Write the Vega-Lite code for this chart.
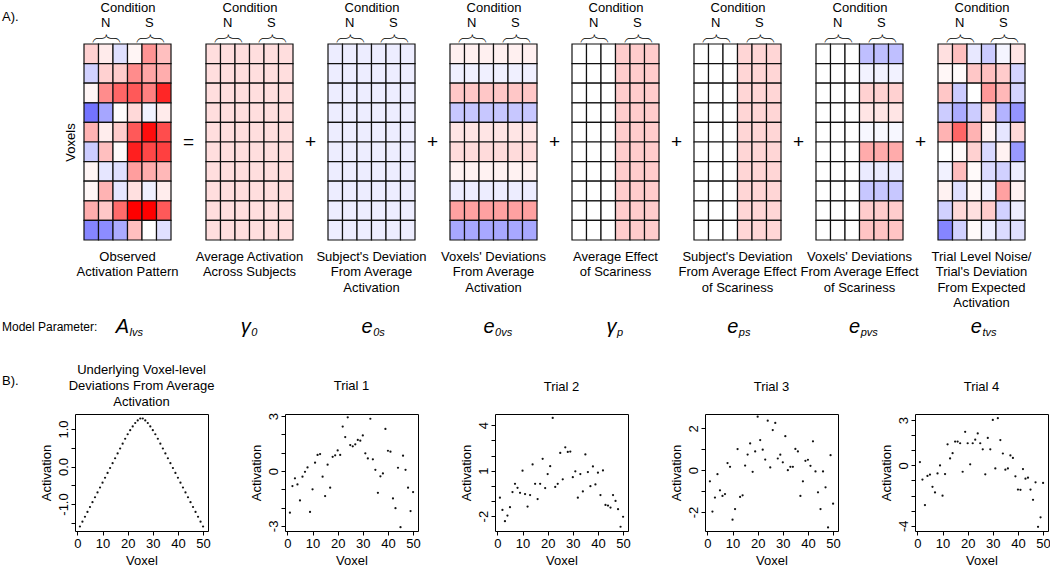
{
"$schema": "https://vega.github.io/schema/vega-lite/v6.json",
"padding": {"left": 2, "top": 1, "right": 0, "bottom": 0},
"background": "white",
"config": {
  "font": "Liberation Sans",
  "view": {"stroke": null},
  "title": {"fontWeight": "normal", "fontSize": 13, "font": "Liberation Sans", "color": "#000"},
  "axis": {"domain": false, "grid": false, "tickColor": "#000", "tickSize": 4, "labelColor": "#000", "titleColor": "#000", "labelFontSize": 13, "titleFontSize": 13, "titleFontWeight": "normal", "labelPadding": 2, "titlePadding": 4, "labelFlush": false, "labelOverlap": false, "labelBound": false, "labelFont": "Liberation Sans", "titleFont": "Liberation Sans"},
  "text": {"font": "Liberation Sans", "color": "#000"}
},
"datasets": {
  "p1": [
    {"r":1,"N1":0.18,"N2":0.08,"N3":-0.12,"S1":0.04,"S2":0.42,"S3":0.25},
    {"r":2,"N1":-0.18,"N2":0.18,"N3":0.2,"S1":0.45,"S2":0.35,"S3":0.32},
    {"r":3,"N1":0.04,"N2":0.45,"N3":0.6,"S1":0.65,"S2":0.5,"S3":0.85},
    {"r":4,"N1":-0.55,"N2":-0.35,"N3":0.01,"S1":0.15,"S2":-0.05,"S3":0.08},
    {"r":5,"N1":0.3,"N2":0.07,"N3":0.2,"S1":0.65,"S2":0.95,"S3":0.7},
    {"r":6,"N1":-0.2,"N2":0.25,"N3":0.02,"S1":0.88,"S2":0.72,"S3":0.75},
    {"r":7,"N1":0.04,"N2":-0.1,"N3":-0.12,"S1":0.38,"S2":0.32,"S3":0.28},
    {"r":8,"N1":0.03,"N2":0.3,"N3":-0.1,"S1":0.12,"S2":-0.06,"S3":0.07},
    {"r":9,"N1":0.32,"N2":0.22,"N3":0.58,"S1":1.0,"S2":1.0,"S3":0.65},
    {"r":10,"N1":-0.48,"N2":-0.45,"N3":-0.33,"S1":0.25,"S2":0.0,"S3":-0.12}
  ],
  "p2": [
    {"r":1,"N1":0.13,"N2":0.13,"N3":0.13,"S1":0.13,"S2":0.13,"S3":0.13},
    {"r":2,"N1":0.13,"N2":0.13,"N3":0.13,"S1":0.13,"S2":0.13,"S3":0.13},
    {"r":3,"N1":0.13,"N2":0.13,"N3":0.13,"S1":0.13,"S2":0.13,"S3":0.13},
    {"r":4,"N1":0.13,"N2":0.13,"N3":0.13,"S1":0.13,"S2":0.13,"S3":0.13},
    {"r":5,"N1":0.13,"N2":0.13,"N3":0.13,"S1":0.13,"S2":0.13,"S3":0.13},
    {"r":6,"N1":0.13,"N2":0.13,"N3":0.13,"S1":0.13,"S2":0.13,"S3":0.13},
    {"r":7,"N1":0.13,"N2":0.13,"N3":0.13,"S1":0.13,"S2":0.13,"S3":0.13},
    {"r":8,"N1":0.13,"N2":0.13,"N3":0.13,"S1":0.13,"S2":0.13,"S3":0.13},
    {"r":9,"N1":0.13,"N2":0.13,"N3":0.13,"S1":0.13,"S2":0.13,"S3":0.13},
    {"r":10,"N1":0.13,"N2":0.13,"N3":0.13,"S1":0.13,"S2":0.13,"S3":0.13}
  ],
  "p3": [
    {"r":1,"N1":-0.07,"N2":-0.07,"N3":-0.07,"S1":-0.07,"S2":-0.07,"S3":-0.07},
    {"r":2,"N1":-0.07,"N2":-0.07,"N3":-0.07,"S1":-0.07,"S2":-0.07,"S3":-0.07},
    {"r":3,"N1":-0.07,"N2":-0.07,"N3":-0.07,"S1":-0.07,"S2":-0.07,"S3":-0.07},
    {"r":4,"N1":-0.07,"N2":-0.07,"N3":-0.07,"S1":-0.07,"S2":-0.07,"S3":-0.07},
    {"r":5,"N1":-0.07,"N2":-0.07,"N3":-0.07,"S1":-0.07,"S2":-0.07,"S3":-0.07},
    {"r":6,"N1":-0.07,"N2":-0.07,"N3":-0.07,"S1":-0.07,"S2":-0.07,"S3":-0.07},
    {"r":7,"N1":-0.07,"N2":-0.07,"N3":-0.07,"S1":-0.07,"S2":-0.07,"S3":-0.07},
    {"r":8,"N1":-0.07,"N2":-0.07,"N3":-0.07,"S1":-0.07,"S2":-0.07,"S3":-0.07},
    {"r":9,"N1":-0.07,"N2":-0.07,"N3":-0.07,"S1":-0.07,"S2":-0.07,"S3":-0.07},
    {"r":10,"N1":-0.07,"N2":-0.07,"N3":-0.07,"S1":-0.07,"S2":-0.07,"S3":-0.07}
  ],
  "p4": [
    {"r":1,"N1":0.06,"N2":0.06,"N3":0.06,"S1":0.06,"S2":0.06,"S3":0.06},
    {"r":2,"N1":-0.06,"N2":-0.06,"N3":-0.06,"S1":-0.06,"S2":-0.06,"S3":-0.06},
    {"r":3,"N1":0.22,"N2":0.22,"N3":0.22,"S1":0.22,"S2":0.22,"S3":0.22},
    {"r":4,"N1":-0.22,"N2":-0.22,"N3":-0.22,"S1":-0.22,"S2":-0.22,"S3":-0.22},
    {"r":5,"N1":0.1,"N2":0.1,"N3":0.1,"S1":0.1,"S2":0.1,"S3":0.1},
    {"r":6,"N1":0.14,"N2":0.14,"N3":0.14,"S1":0.14,"S2":0.14,"S3":0.14},
    {"r":7,"N1":0.05,"N2":0.05,"N3":0.05,"S1":0.05,"S2":0.05,"S3":0.05},
    {"r":8,"N1":-0.07,"N2":-0.07,"N3":-0.07,"S1":-0.07,"S2":-0.07,"S3":-0.07},
    {"r":9,"N1":0.37,"N2":0.37,"N3":0.37,"S1":0.37,"S2":0.37,"S3":0.37},
    {"r":10,"N1":-0.34,"N2":-0.34,"N3":-0.34,"S1":-0.34,"S2":-0.34,"S3":-0.34}
  ],
  "p5": [
    {"r":1,"N1":0,"N2":0,"N3":0,"S1":0.2,"S2":0.2,"S3":0.2},
    {"r":2,"N1":0,"N2":0,"N3":0,"S1":0.2,"S2":0.2,"S3":0.2},
    {"r":3,"N1":0,"N2":0,"N3":0,"S1":0.2,"S2":0.2,"S3":0.2},
    {"r":4,"N1":0,"N2":0,"N3":0,"S1":0.2,"S2":0.2,"S3":0.2},
    {"r":5,"N1":0,"N2":0,"N3":0,"S1":0.2,"S2":0.2,"S3":0.2},
    {"r":6,"N1":0,"N2":0,"N3":0,"S1":0.2,"S2":0.2,"S3":0.2},
    {"r":7,"N1":0,"N2":0,"N3":0,"S1":0.2,"S2":0.2,"S3":0.2},
    {"r":8,"N1":0,"N2":0,"N3":0,"S1":0.2,"S2":0.2,"S3":0.2},
    {"r":9,"N1":0,"N2":0,"N3":0,"S1":0.2,"S2":0.2,"S3":0.2},
    {"r":10,"N1":0,"N2":0,"N3":0,"S1":0.2,"S2":0.2,"S3":0.2}
  ],
  "p6": [
    {"r":1,"N1":0,"N2":0,"N3":0,"S1":0.16,"S2":0.16,"S3":0.16},
    {"r":2,"N1":0,"N2":0,"N3":0,"S1":0.16,"S2":0.16,"S3":0.16},
    {"r":3,"N1":0,"N2":0,"N3":0,"S1":0.16,"S2":0.16,"S3":0.16},
    {"r":4,"N1":0,"N2":0,"N3":0,"S1":0.16,"S2":0.16,"S3":0.16},
    {"r":5,"N1":0,"N2":0,"N3":0,"S1":0.16,"S2":0.16,"S3":0.16},
    {"r":6,"N1":0,"N2":0,"N3":0,"S1":0.16,"S2":0.16,"S3":0.16},
    {"r":7,"N1":0,"N2":0,"N3":0,"S1":0.16,"S2":0.16,"S3":0.16},
    {"r":8,"N1":0,"N2":0,"N3":0,"S1":0.16,"S2":0.16,"S3":0.16},
    {"r":9,"N1":0,"N2":0,"N3":0,"S1":0.16,"S2":0.16,"S3":0.16},
    {"r":10,"N1":0,"N2":0,"N3":0,"S1":0.16,"S2":0.16,"S3":0.16}
  ],
  "p7": [
    {"r":1,"N1":0,"N2":0,"N3":0,"S1":-0.25,"S2":-0.25,"S3":-0.25},
    {"r":2,"N1":0,"N2":0,"N3":0,"S1":-0.05,"S2":-0.05,"S3":-0.05},
    {"r":3,"N1":0,"N2":0,"N3":0,"S1":0.18,"S2":0.18,"S3":0.18},
    {"r":4,"N1":0,"N2":0,"N3":0,"S1":0.1,"S2":0.1,"S3":0.1},
    {"r":5,"N1":0,"N2":0,"N3":0,"S1":-0.03,"S2":-0.03,"S3":-0.03},
    {"r":6,"N1":0,"N2":0,"N3":0,"S1":0.33,"S2":0.33,"S3":0.33},
    {"r":7,"N1":0,"N2":0,"N3":0,"S1":-0.08,"S2":-0.08,"S3":-0.08},
    {"r":8,"N1":0,"N2":0,"N3":0,"S1":-0.22,"S2":-0.22,"S3":-0.22},
    {"r":9,"N1":0,"N2":0,"N3":0,"S1":0.2,"S2":0.2,"S3":0.2},
    {"r":10,"N1":0,"N2":0,"N3":0,"S1":0.23,"S2":0.23,"S3":0.23}
  ],
  "p8": [
    {"r":1,"N1":0.12,"N2":0.25,"N3":-0.09,"S1":-0.2,"S2":-0.04,"S3":0.1},
    {"r":2,"N1":0.03,"N2":0.02,"N3":0.22,"S1":0.25,"S2":0.2,"S3":-0.17},
    {"r":3,"N1":0.22,"N2":-0.2,"N3":0.0,"S1":0.4,"S2":0.28,"S3":-0.17},
    {"r":4,"N1":-0.2,"N2":-0.33,"N3":-0.2,"S1":0.15,"S2":-0.3,"S3":-0.42},
    {"r":5,"N1":0.3,"N2":0.6,"N3":0.3,"S1":0.05,"S2":-0.1,"S3":0.15},
    {"r":6,"N1":0.0,"N2":0.02,"N3":0.18,"S1":-0.15,"S2":0.05,"S3":-0.4},
    {"r":7,"N1":-0.05,"N2":0.26,"N3":0.02,"S1":-0.14,"S2":-0.18,"S3":-0.07},
    {"r":8,"N1":0.05,"N2":-0.12,"N3":0.03,"S1":-0.06,"S2":0.37,"S3":0.05},
    {"r":9,"N1":-0.18,"N2":0.15,"N3":0.12,"S1":0.2,"S2":-0.18,"S3":-0.07},
    {"r":10,"N1":-0.48,"N2":-0.18,"N3":0.02,"S1":-0.07,"S2":-0.14,"S3":-0.12}
  ],
  "t0": [
    {"voxel":1,"act":-1.60},{"voxel":2,"act":-1.47},{"voxel":3,"act":-1.34},{"voxel":4,"act":-1.21},{"voxel":5,"act":-1.08},
    {"voxel":6,"act":-0.95},{"voxel":7,"act":-0.82},{"voxel":8,"act":-0.69},{"voxel":9,"act":-0.56},{"voxel":10,"act":-0.43},
    {"voxel":11,"act":-0.30},{"voxel":12,"act":-0.17},{"voxel":13,"act":-0.04},{"voxel":14,"act":0.09},{"voxel":15,"act":0.22},
    {"voxel":16,"act":0.35},{"voxel":17,"act":0.48},{"voxel":18,"act":0.61},{"voxel":19,"act":0.74},{"voxel":20,"act":0.86},
    {"voxel":21,"act":0.97},{"voxel":22,"act":1.07},{"voxel":23,"act":1.16},{"voxel":24,"act":1.23},{"voxel":25,"act":1.28},
    {"voxel":26,"act":1.28},{"voxel":27,"act":1.23},{"voxel":28,"act":1.16},{"voxel":29,"act":1.07},{"voxel":30,"act":0.97},
    {"voxel":31,"act":0.86},{"voxel":32,"act":0.74},{"voxel":33,"act":0.61},{"voxel":34,"act":0.48},{"voxel":35,"act":0.35},
    {"voxel":36,"act":0.22},{"voxel":37,"act":0.09},{"voxel":38,"act":-0.04},{"voxel":39,"act":-0.17},{"voxel":40,"act":-0.30},
    {"voxel":41,"act":-0.43},{"voxel":42,"act":-0.56},{"voxel":43,"act":-0.69},{"voxel":44,"act":-0.82},{"voxel":45,"act":-0.95},
    {"voxel":46,"act":-1.08},{"voxel":47,"act":-1.21},{"voxel":48,"act":-1.34},{"voxel":49,"act":-1.47},{"voxel":50,"act":-1.60}
  ],
  "t1": [
    {"voxel":1,"act":-2.28},{"voxel":2,"act":-0.82},{"voxel":3,"act":-0.40},{"voxel":4,"act":-0.73},{"voxel":5,"act":-1.61},
    {"voxel":6,"act":-0.31},{"voxel":7,"act":-0.04},{"voxel":8,"act":0.20},{"voxel":9,"act":-2.24},{"voxel":10,"act":-1.00},
    {"voxel":11,"act":0.46},{"voxel":12,"act":0.88},{"voxel":13,"act":0.93},{"voxel":14,"act":-0.31},{"voxel":15,"act":-1.37},
    {"voxel":16,"act":0.35},{"voxel":17,"act":-0.91},{"voxel":18,"act":0.78},{"voxel":19,"act":0.86},{"voxel":20,"act":1.13},
    {"voxel":21,"act":0.88},{"voxel":22,"act":2.43},{"voxel":23,"act":1.86},{"voxel":24,"act":2.94},{"voxel":25,"act":1.42},
    {"voxel":26,"act":1.35},{"voxel":27,"act":1.46},{"voxel":28,"act":1.70},{"voxel":29,"act":1.66},{"voxel":30,"act":1.95},
    {"voxel":31,"act":0.97},{"voxel":32,"act":0.69},{"voxel":33,"act":2.86},{"voxel":34,"act":0.64},{"voxel":35,"act":0.07},
    {"voxel":36,"act":-1.19},{"voxel":37,"act":-0.29},{"voxel":38,"act":-0.13},{"voxel":39,"act":2.30},{"voxel":40,"act":1.11},
    {"voxel":41,"act":1.06},{"voxel":42,"act":-1.50},{"voxel":43,"act":-2.03},{"voxel":44,"act":0.18},{"voxel":45,"act":-3.07},
    {"voxel":46,"act":0.84},{"voxel":47,"act":0.07},{"voxel":48,"act":-0.91},{"voxel":49,"act":-2.19},{"voxel":50,"act":-1.15}
  ],
  "t2": [
    {"voxel":1,"act":-0.78},{"voxel":2,"act":-1.59},{"voxel":3,"act":-2.33},{"voxel":4,"act":-1.96},{"voxel":5,"act":-1.41},
    {"voxel":6,"act":-0.41},{"voxel":7,"act":0.13},{"voxel":8,"act":-0.13},{"voxel":9,"act":-0.46},{"voxel":10,"act":1.00},
    {"voxel":11,"act":-0.54},{"voxel":12,"act":-1.37},{"voxel":13,"act":-0.61},{"voxel":14,"act":1.41},{"voxel":15,"act":0.13},
    {"voxel":16,"act":-0.87},{"voxel":17,"act":0.13},{"voxel":18,"act":1.78},{"voxel":19,"act":-0.15},{"voxel":20,"act":0.78},
    {"voxel":21,"act":1.30},{"voxel":22,"act":4.48},{"voxel":23,"act":-0.07},{"voxel":24,"act":0.13},{"voxel":25,"act":2.17},
    {"voxel":26,"act":0.43},{"voxel":27,"act":2.54},{"voxel":28,"act":2.24},{"voxel":29,"act":2.26},{"voxel":30,"act":0.57},
    {"voxel":31,"act":0.96},{"voxel":32,"act":-0.78},{"voxel":33,"act":0.78},{"voxel":34,"act":-0.37},{"voxel":35,"act":2.07},
    {"voxel":36,"act":0.91},{"voxel":37,"act":-0.02},{"voxel":38,"act":1.28},{"voxel":39,"act":0.09},{"voxel":40,"act":0.87},
    {"voxel":41,"act":-0.61},{"voxel":42,"act":1.02},{"voxel":43,"act":-1.26},{"voxel":44,"act":-1.30},{"voxel":45,"act":-1.43},
    {"voxel":46,"act":-0.61},{"voxel":47,"act":-1.00},{"voxel":48,"act":-1.54},{"voxel":49,"act":-2.70},{"voxel":50,"act":-2.04}
  ],
  "t3": [
    {"voxel":1,"act":-0.53},{"voxel":2,"act":-1.98},{"voxel":3,"act":-1.31},{"voxel":4,"act":-0.19},{"voxel":5,"act":-0.96},
    {"voxel":6,"act":-1.23},{"voxel":7,"act":-1.14},{"voxel":8,"act":0.34},{"voxel":9,"act":0.16},{"voxel":10,"act":-2.37},
    {"voxel":11,"act":-1.86},{"voxel":12,"act":1.01},{"voxel":13,"act":-1.28},{"voxel":14,"act":-1.20},{"voxel":15,"act":0.22},
    {"voxel":16,"act":0.75},{"voxel":17,"act":1.28},{"voxel":18,"act":-0.08},{"voxel":19,"act":0.90},{"voxel":20,"act":2.56},
    {"voxel":21,"act":1.44},{"voxel":22,"act":0.98},{"voxel":23,"act":0.51},{"voxel":24,"act":2.37},{"voxel":25,"act":0.13},
    {"voxel":26,"act":1.92},{"voxel":27,"act":2.26},{"voxel":28,"act":0.56},{"voxel":29,"act":0.74},{"voxel":30,"act":0.38},
    {"voxel":31,"act":1.63},{"voxel":32,"act":0.00},{"voxel":33,"act":0.16},{"voxel":34,"act":0.16},{"voxel":35,"act":1.02},
    {"voxel":36,"act":0.90},{"voxel":37,"act":-1.23},{"voxel":38,"act":-0.53},{"voxel":39,"act":0.45},{"voxel":40,"act":0.50},
    {"voxel":41,"act":0.21},{"voxel":42,"act":1.38},{"voxel":43,"act":-0.06},{"voxel":44,"act":-1.06},{"voxel":45,"act":-1.86},
    {"voxel":46,"act":-0.06},{"voxel":47,"act":-0.82},{"voxel":48,"act":-2.74},{"voxel":49,"act":0.72},{"voxel":50,"act":-1.60}
  ],
  "t4": [
    {"voxel":1,"act":0.22},{"voxel":2,"act":-0.94},{"voxel":3,"act":-2.63},{"voxel":4,"act":-0.70},{"voxel":5,"act":-0.61},
    {"voxel":6,"act":-1.42},{"voxel":7,"act":-1.79},{"voxel":8,"act":-0.53},{"voxel":9,"act":0.00},{"voxel":10,"act":-2.01},
    {"voxel":11,"act":-0.57},{"voxel":12,"act":1.40},{"voxel":13,"act":0.46},{"voxel":14,"act":0.81},{"voxel":15,"act":1.58},
    {"voxel":16,"act":1.58},{"voxel":17,"act":1.47},{"voxel":18,"act":-0.42},{"voxel":19,"act":2.23},{"voxel":20,"act":1.47},
    {"voxel":21,"act":0.07},{"voxel":22,"act":1.47},{"voxel":23,"act":1.71},{"voxel":24,"act":2.12},{"voxel":25,"act":1.47},
    {"voxel":26,"act":1.07},{"voxel":27,"act":-0.59},{"voxel":28,"act":1.82},{"voxel":29,"act":1.07},{"voxel":30,"act":3.02},
    {"voxel":31,"act":-0.20},{"voxel":32,"act":3.13},{"voxel":33,"act":1.68},{"voxel":34,"act":0.79},{"voxel":35,"act":-0.28},
    {"voxel":36,"act":-0.20},{"voxel":37,"act":0.66},{"voxel":38,"act":0.50},{"voxel":39,"act":-0.72},{"voxel":40,"act":-1.60},
    {"voxel":41,"act":-1.62},{"voxel":42,"act":-0.24},{"voxel":43,"act":-0.88},{"voxel":44,"act":-0.81},{"voxel":45,"act":-1.60},
    {"voxel":46,"act":-2.28},{"voxel":47,"act":-1.12},{"voxel":48,"act":-4.07},{"voxel":49,"act":-3.44},{"voxel":50,"act":-1.16}
  ]
},
"vconcat": [
  {
    "hconcat": [
      {"width": 72, "height": 196, "data": {"values": [{"t": ""}]}, "mark": {"type": "text"}, "encoding": {"text": {"field": "t"}},
       "title": {"text": "A).", "anchor": "start", "frame": "group", "offset": 20}},
      {"width": 87, "height": 196, "data": {"name": "p1"},
       "transform": [{"fold": ["N1","N2","N3","S1","S2","S3"], "as": ["k","v"]}],
       "title": {"text": ["Observed", "Activation Pattern"], "orient": "bottom", "anchor": "middle", "frame": "group", "offset": 10, "lineHeight": 15.5},
       "layer": [
         {"mark": {"type": "rect", "stroke": "#111", "strokeWidth": 1.2},
          "encoding": {
            "x": {"field": "k", "type": "nominal", "scale": {"type": "band", "paddingInner": 0, "paddingOuter": 0}, "axis": {"orient": "top", "title": "Condition", "labelExpr": "datum.value == 'N2' ? 'N' : (datum.value == 'S2' ? 'S' : '')", "ticks": false, "offset": 14, "labelPadding": 1, "titlePadding": 2, "labelAngle": 0}},
            "y": {"field": "r", "type": "ordinal", "scale": {"paddingInner": 0, "paddingOuter": 0}, "axis": {"title": "Voxels", "labels": false, "ticks": false, "titlePadding": 7}},
            "color": {"field": "v", "type": "quantitative", "scale": {"domain": [-1, 0, 1], "range": ["#0000ff", "#ffffff", "#ff0000"], "interpolate": "rgb", "clamp": true}, "legend": null}}},
         {"data": {"values": [{"c": "N"}, {"c": "S"}]}, "mark": {"type": "text", "text": ""},
          "encoding": {"x": {"field": "c", "type": "nominal", "scale": {"type": "point", "padding": 0.5}, "axis": {"orient": "top", "title": null, "labelExpr": "'{'", "labelAngle": 90, "labelAlign": "right", "labelBaseline": "middle", "labelFont": "Roboto", "labelFontWeight": 100, "labelFontSize": 28, "ticks": false, "labelPadding": 2}}}}
       ],
       "resolve": {"scale": {"x": "independent"}, "axis": {"x": "independent"}}},
      {"width": 15, "height": 196, "data": {"values": [{"o": "="}]}, "mark": {"type": "text", "fontSize": 19}, "encoding": {"text": {"field": "o"}}},
      {"width": 87, "height": 196, "data": {"name": "p2"},
       "transform": [{"fold": ["N1","N2","N3","S1","S2","S3"], "as": ["k","v"]}],
       "title": {"text": ["Average Activation", "Across Subjects"], "orient": "bottom", "anchor": "middle", "frame": "group", "offset": 10, "lineHeight": 15.5},
       "layer": [
         {"mark": {"type": "rect", "stroke": "#111", "strokeWidth": 1.2},
          "encoding": {
            "x": {"field": "k", "type": "nominal", "scale": {"type": "band", "paddingInner": 0, "paddingOuter": 0}, "axis": {"orient": "top", "title": "Condition", "labelExpr": "datum.value == 'N2' ? 'N' : (datum.value == 'S2' ? 'S' : '')", "ticks": false, "offset": 14, "labelPadding": 1, "titlePadding": 2, "labelAngle": 0}},
            "y": {"field": "r", "type": "ordinal", "scale": {"paddingInner": 0, "paddingOuter": 0}, "axis": null},
            "color": {"field": "v", "type": "quantitative", "scale": {"domain": [-1, 0, 1], "range": ["#0000ff", "#ffffff", "#ff0000"], "interpolate": "rgb", "clamp": true}, "legend": null}}},
         {"data": {"values": [{"c": "N"}, {"c": "S"}]}, "mark": {"type": "text", "text": ""},
          "encoding": {"x": {"field": "c", "type": "nominal", "scale": {"type": "point", "padding": 0.5}, "axis": {"orient": "top", "title": null, "labelExpr": "'{'", "labelAngle": 90, "labelAlign": "right", "labelBaseline": "middle", "labelFont": "Roboto", "labelFontWeight": 100, "labelFontSize": 28, "ticks": false, "labelPadding": 2}}}}
       ],
       "resolve": {"scale": {"x": "independent"}, "axis": {"x": "independent"}}},
      {"width": 15, "height": 196, "data": {"values": [{"o": "+"}]}, "mark": {"type": "text", "fontSize": 19}, "encoding": {"text": {"field": "o"}}},
      {"width": 87, "height": 196, "data": {"name": "p3"},
       "transform": [{"fold": ["N1","N2","N3","S1","S2","S3"], "as": ["k","v"]}],
       "title": {"text": ["Subject's Deviation", "From Average", "Activation"], "orient": "bottom", "anchor": "middle", "frame": "group", "offset": 10, "lineHeight": 15.5},
       "layer": [
         {"mark": {"type": "rect", "stroke": "#111", "strokeWidth": 1.2},
          "encoding": {
            "x": {"field": "k", "type": "nominal", "scale": {"type": "band", "paddingInner": 0, "paddingOuter": 0}, "axis": {"orient": "top", "title": "Condition", "labelExpr": "datum.value == 'N2' ? 'N' : (datum.value == 'S2' ? 'S' : '')", "ticks": false, "offset": 14, "labelPadding": 1, "titlePadding": 2, "labelAngle": 0}},
            "y": {"field": "r", "type": "ordinal", "scale": {"paddingInner": 0, "paddingOuter": 0}, "axis": null},
            "color": {"field": "v", "type": "quantitative", "scale": {"domain": [-1, 0, 1], "range": ["#0000ff", "#ffffff", "#ff0000"], "interpolate": "rgb", "clamp": true}, "legend": null}}},
         {"data": {"values": [{"c": "N"}, {"c": "S"}]}, "mark": {"type": "text", "text": ""},
          "encoding": {"x": {"field": "c", "type": "nominal", "scale": {"type": "point", "padding": 0.5}, "axis": {"orient": "top", "title": null, "labelExpr": "'{'", "labelAngle": 90, "labelAlign": "right", "labelBaseline": "middle", "labelFont": "Roboto", "labelFontWeight": 100, "labelFontSize": 28, "ticks": false, "labelPadding": 2}}}}
       ],
       "resolve": {"scale": {"x": "independent"}, "axis": {"x": "independent"}}},
      {"width": 15, "height": 196, "data": {"values": [{"o": "+"}]}, "mark": {"type": "text", "fontSize": 19}, "encoding": {"text": {"field": "o"}}},
      {"width": 87, "height": 196, "data": {"name": "p4"},
       "transform": [{"fold": ["N1","N2","N3","S1","S2","S3"], "as": ["k","v"]}],
       "title": {"text": ["Voxels' Deviations", "From Average", "Activation"], "orient": "bottom", "anchor": "middle", "frame": "group", "offset": 10, "lineHeight": 15.5},
       "layer": [
         {"mark": {"type": "rect", "stroke": "#111", "strokeWidth": 1.2},
          "encoding": {
            "x": {"field": "k", "type": "nominal", "scale": {"type": "band", "paddingInner": 0, "paddingOuter": 0}, "axis": {"orient": "top", "title": "Condition", "labelExpr": "datum.value == 'N2' ? 'N' : (datum.value == 'S2' ? 'S' : '')", "ticks": false, "offset": 14, "labelPadding": 1, "titlePadding": 2, "labelAngle": 0}},
            "y": {"field": "r", "type": "ordinal", "scale": {"paddingInner": 0, "paddingOuter": 0}, "axis": null},
            "color": {"field": "v", "type": "quantitative", "scale": {"domain": [-1, 0, 1], "range": ["#0000ff", "#ffffff", "#ff0000"], "interpolate": "rgb", "clamp": true}, "legend": null}}},
         {"data": {"values": [{"c": "N"}, {"c": "S"}]}, "mark": {"type": "text", "text": ""},
          "encoding": {"x": {"field": "c", "type": "nominal", "scale": {"type": "point", "padding": 0.5}, "axis": {"orient": "top", "title": null, "labelExpr": "'{'", "labelAngle": 90, "labelAlign": "right", "labelBaseline": "middle", "labelFont": "Roboto", "labelFontWeight": 100, "labelFontSize": 28, "ticks": false, "labelPadding": 2}}}}
       ],
       "resolve": {"scale": {"x": "independent"}, "axis": {"x": "independent"}}},
      {"width": 15, "height": 196, "data": {"values": [{"o": "+"}]}, "mark": {"type": "text", "fontSize": 19}, "encoding": {"text": {"field": "o"}}},
      {"width": 87, "height": 196, "data": {"name": "p5"},
       "transform": [{"fold": ["N1","N2","N3","S1","S2","S3"], "as": ["k","v"]}],
       "title": {"text": ["Average Effect", "of Scariness"], "orient": "bottom", "anchor": "middle", "frame": "group", "offset": 10, "lineHeight": 15.5},
       "layer": [
         {"mark": {"type": "rect", "stroke": "#111", "strokeWidth": 1.2},
          "encoding": {
            "x": {"field": "k", "type": "nominal", "scale": {"type": "band", "paddingInner": 0, "paddingOuter": 0}, "axis": {"orient": "top", "title": "Condition", "labelExpr": "datum.value == 'N2' ? 'N' : (datum.value == 'S2' ? 'S' : '')", "ticks": false, "offset": 14, "labelPadding": 1, "titlePadding": 2, "labelAngle": 0}},
            "y": {"field": "r", "type": "ordinal", "scale": {"paddingInner": 0, "paddingOuter": 0}, "axis": null},
            "color": {"field": "v", "type": "quantitative", "scale": {"domain": [-1, 0, 1], "range": ["#0000ff", "#ffffff", "#ff0000"], "interpolate": "rgb", "clamp": true}, "legend": null}}},
         {"data": {"values": [{"c": "N"}, {"c": "S"}]}, "mark": {"type": "text", "text": ""},
          "encoding": {"x": {"field": "c", "type": "nominal", "scale": {"type": "point", "padding": 0.5}, "axis": {"orient": "top", "title": null, "labelExpr": "'{'", "labelAngle": 90, "labelAlign": "right", "labelBaseline": "middle", "labelFont": "Roboto", "labelFontWeight": 100, "labelFontSize": 28, "ticks": false, "labelPadding": 2}}}}
       ],
       "resolve": {"scale": {"x": "independent"}, "axis": {"x": "independent"}}},
      {"width": 15, "height": 196, "data": {"values": [{"o": "+"}]}, "mark": {"type": "text", "fontSize": 19}, "encoding": {"text": {"field": "o"}}},
      {"width": 87, "height": 196, "data": {"name": "p6"},
       "transform": [{"fold": ["N1","N2","N3","S1","S2","S3"], "as": ["k","v"]}],
       "title": {"text": ["Subject's Deviation", "From Average Effect", "of Scariness"], "orient": "bottom", "anchor": "middle", "frame": "group", "offset": 10, "lineHeight": 15.5},
       "layer": [
         {"mark": {"type": "rect", "stroke": "#111", "strokeWidth": 1.2},
          "encoding": {
            "x": {"field": "k", "type": "nominal", "scale": {"type": "band", "paddingInner": 0, "paddingOuter": 0}, "axis": {"orient": "top", "title": "Condition", "labelExpr": "datum.value == 'N2' ? 'N' : (datum.value == 'S2' ? 'S' : '')", "ticks": false, "offset": 14, "labelPadding": 1, "titlePadding": 2, "labelAngle": 0}},
            "y": {"field": "r", "type": "ordinal", "scale": {"paddingInner": 0, "paddingOuter": 0}, "axis": null},
            "color": {"field": "v", "type": "quantitative", "scale": {"domain": [-1, 0, 1], "range": ["#0000ff", "#ffffff", "#ff0000"], "interpolate": "rgb", "clamp": true}, "legend": null}}},
         {"data": {"values": [{"c": "N"}, {"c": "S"}]}, "mark": {"type": "text", "text": ""},
          "encoding": {"x": {"field": "c", "type": "nominal", "scale": {"type": "point", "padding": 0.5}, "axis": {"orient": "top", "title": null, "labelExpr": "'{'", "labelAngle": 90, "labelAlign": "right", "labelBaseline": "middle", "labelFont": "Roboto", "labelFontWeight": 100, "labelFontSize": 28, "ticks": false, "labelPadding": 2}}}}
       ],
       "resolve": {"scale": {"x": "independent"}, "axis": {"x": "independent"}}},
      {"width": 15, "height": 196, "data": {"values": [{"o": "+"}]}, "mark": {"type": "text", "fontSize": 19}, "encoding": {"text": {"field": "o"}}},
      {"width": 87, "height": 196, "data": {"name": "p7"},
       "transform": [{"fold": ["N1","N2","N3","S1","S2","S3"], "as": ["k","v"]}],
       "title": {"text": ["Voxels' Deviations", "From Average Effect", "of Scariness"], "orient": "bottom", "anchor": "middle", "frame": "group", "offset": 10, "lineHeight": 15.5},
       "layer": [
         {"mark": {"type": "rect", "stroke": "#111", "strokeWidth": 1.2},
          "encoding": {
            "x": {"field": "k", "type": "nominal", "scale": {"type": "band", "paddingInner": 0, "paddingOuter": 0}, "axis": {"orient": "top", "title": "Condition", "labelExpr": "datum.value == 'N2' ? 'N' : (datum.value == 'S2' ? 'S' : '')", "ticks": false, "offset": 14, "labelPadding": 1, "titlePadding": 2, "labelAngle": 0}},
            "y": {"field": "r", "type": "ordinal", "scale": {"paddingInner": 0, "paddingOuter": 0}, "axis": null},
            "color": {"field": "v", "type": "quantitative", "scale": {"domain": [-1, 0, 1], "range": ["#0000ff", "#ffffff", "#ff0000"], "interpolate": "rgb", "clamp": true}, "legend": null}}},
         {"data": {"values": [{"c": "N"}, {"c": "S"}]}, "mark": {"type": "text", "text": ""},
          "encoding": {"x": {"field": "c", "type": "nominal", "scale": {"type": "point", "padding": 0.5}, "axis": {"orient": "top", "title": null, "labelExpr": "'{'", "labelAngle": 90, "labelAlign": "right", "labelBaseline": "middle", "labelFont": "Roboto", "labelFontWeight": 100, "labelFontSize": 28, "ticks": false, "labelPadding": 2}}}}
       ],
       "resolve": {"scale": {"x": "independent"}, "axis": {"x": "independent"}}},
      {"width": 15, "height": 196, "data": {"values": [{"o": "+"}]}, "mark": {"type": "text", "fontSize": 19}, "encoding": {"text": {"field": "o"}}},
      {"width": 87, "height": 196, "data": {"name": "p8"},
       "transform": [{"fold": ["N1","N2","N3","S1","S2","S3"], "as": ["k","v"]}],
       "title": {"text": ["Trial Level Noise/", "Trial's Deviation", "From Expected", "Activation"], "orient": "bottom", "anchor": "middle", "frame": "group", "offset": 10, "lineHeight": 15.5},
       "layer": [
         {"mark": {"type": "rect", "stroke": "#111", "strokeWidth": 1.2},
          "encoding": {
            "x": {"field": "k", "type": "nominal", "scale": {"type": "band", "paddingInner": 0, "paddingOuter": 0}, "axis": {"orient": "top", "title": "Condition", "labelExpr": "datum.value == 'N2' ? 'N' : (datum.value == 'S2' ? 'S' : '')", "ticks": false, "offset": 14, "labelPadding": 1, "titlePadding": 2, "labelAngle": 0}},
            "y": {"field": "r", "type": "ordinal", "scale": {"paddingInner": 0, "paddingOuter": 0}, "axis": null},
            "color": {"field": "v", "type": "quantitative", "scale": {"domain": [-1, 0, 1], "range": ["#0000ff", "#ffffff", "#ff0000"], "interpolate": "rgb", "clamp": true}, "legend": null}}},
         {"data": {"values": [{"c": "N"}, {"c": "S"}]}, "mark": {"type": "text", "text": ""},
          "encoding": {"x": {"field": "c", "type": "nominal", "scale": {"type": "point", "padding": 0.5}, "axis": {"orient": "top", "title": null, "labelExpr": "'{'", "labelAngle": 90, "labelAlign": "right", "labelBaseline": "middle", "labelFont": "Roboto", "labelFontWeight": 100, "labelFontSize": 28, "ticks": false, "labelPadding": 2}}}}
       ],
       "resolve": {"scale": {"x": "independent"}, "axis": {"x": "independent"}}}
    ],
    "spacing": 10,
    "bounds": "flush"
  },
  {
    "hconcat": [
      {"width": 72, "height": 42, "data": {"values": [{"t": "Model Parameter:"}]}, "mark": {"type": "text", "align": "left", "dx": -36, "dy": -10.5, "fontSize": 12}, "encoding": {"text": {"field": "t"}}},
      {"width": 940, "height": 42,
       "data": {"values": [
         {"slot": 1, "sym": "A", "sub": "lvs"},
         {"slot": 2, "sym": "γ", "sub": "0"},
         {"slot": 3, "sym": "e", "sub": "0s"},
         {"slot": 4, "sym": "e", "sub": "0vs"},
         {"slot": 5, "sym": "γ", "sub": "p"},
         {"slot": 6, "sym": "e", "sub": "ps"},
         {"slot": 7, "sym": "e", "sub": "pvs"},
         {"slot": 8, "sym": "e", "sub": "tvs"}
       ]},
       "encoding": {"x": {"field": "slot", "type": "ordinal", "scale": {"type": "point", "padding": 0.357}, "axis": null}},
       "layer": [
         {"mark": {"type": "text", "align": "right", "dx": 1.5, "dy": -10.5, "fontSize": 20, "fontStyle": "italic"}, "encoding": {"text": {"field": "sym"}}},
         {"mark": {"type": "text", "align": "left", "dx": 2, "dy": -4.5, "fontSize": 11, "fontStyle": "italic"}, "encoding": {"text": {"field": "sub"}}}
       ]}
    ],
    "spacing": 10,
    "bounds": "flush"
  },
  {
    "hconcat": [
      {"width": 63, "height": 117, "data": {"values": [{"t": ""}]}, "mark": {"type": "text"}, "encoding": {"text": {"field": "t"}},
       "title": {"text": "B).", "anchor": "start", "frame": "group", "offset": 26}},
      {
        "hconcat": [
          {"width": 133, "height": 117, "data": {"name": "t0"}, "view": {"stroke": "#000", "strokeWidth": 1},
           "title": {"text": ["Underlying Voxel-level", "Deviations From Average", "Activation"], "frame": "group", "offset": 5, "lineHeight": 16},
           "mark": {"type": "point", "filled": true, "size": 5, "color": "#111", "opacity": 1},
           "encoding": {
             "x": {"field": "voxel", "type": "quantitative", "scale": {"domain": [-0.96, 51.96], "nice": false, "zero": false}, "axis": {"title": "Voxel", "values": [0, 10, 20, 30, 40, 50]}},
             "y": {"field": "act", "type": "quantitative", "scale": {"domain": [-1.72, 1.40], "nice": false, "zero": false}, "axis": {"title": "Activation", "values": [-1.5, -1, -0.5, 0, 0.5, 1], "labelAngle": 270, "labelAlign": "center", "labelBaseline": "bottom", "labelPadding": 1, "labelExpr": "datum.value == 1 ? '1.0' : (datum.value == 0 ? '0.0' : (datum.value == -1 ? '-1.0' : ''))"}}}},
          {"width": 133, "height": 117, "data": {"name": "t1"}, "view": {"stroke": "#000", "strokeWidth": 1},
           "title": {"text": "Trial 1", "frame": "group", "offset": 20},
           "mark": {"type": "point", "filled": true, "size": 5, "color": "#111", "opacity": 1},
           "encoding": {
             "x": {"field": "voxel", "type": "quantitative", "scale": {"domain": [-0.96, 51.96], "nice": false, "zero": false}, "axis": {"title": "Voxel", "values": [0, 10, 20, 30, 40, 50]}},
             "y": {"field": "act", "type": "quantitative", "scale": {"domain": [-3.28, 3.12], "nice": false, "zero": false}, "axis": {"title": "Activation", "values": [-3, -2, -1, 0, 1, 2, 3], "labelAngle": 270, "labelAlign": "center", "labelBaseline": "bottom", "labelPadding": 1, "labelExpr": "datum.value == 3 ? '3' : (datum.value == 0 ? '0' : (datum.value == -3 ? '-3' : ''))"}}}},
          {"width": 133, "height": 117, "data": {"name": "t2"}, "view": {"stroke": "#000", "strokeWidth": 1},
           "title": {"text": "Trial 2", "frame": "group", "offset": 20},
           "mark": {"type": "point", "filled": true, "size": 5, "color": "#111", "opacity": 1},
           "encoding": {
             "x": {"field": "voxel", "type": "quantitative", "scale": {"domain": [-0.96, 51.96], "nice": false, "zero": false}, "axis": {"title": "Voxel", "values": [0, 10, 20, 30, 40, 50]}},
             "y": {"field": "act", "type": "quantitative", "scale": {"domain": [-2.98, 4.74], "nice": false, "zero": false}, "axis": {"title": "Activation", "values": [-2, -1, 0, 1, 2, 3, 4], "labelAngle": 270, "labelAlign": "center", "labelBaseline": "bottom", "labelPadding": 1, "labelExpr": "datum.value == 4 ? '4' : (datum.value == 1 ? '1' : (datum.value == -2 ? '-2' : ''))"}}}},
          {"width": 133, "height": 117, "data": {"name": "t3"}, "view": {"stroke": "#000", "strokeWidth": 1},
           "title": {"text": "Trial 3", "frame": "group", "offset": 20},
           "mark": {"type": "point", "filled": true, "size": 5, "color": "#111", "opacity": 1},
           "encoding": {
             "x": {"field": "voxel", "type": "quantitative", "scale": {"domain": [-0.96, 51.96], "nice": false, "zero": false}, "axis": {"title": "Voxel", "values": [0, 10, 20, 30, 40, 50]}},
             "y": {"field": "act", "type": "quantitative", "scale": {"domain": [-2.91, 2.69], "nice": false, "zero": false}, "axis": {"title": "Activation", "values": [-2, -1, 0, 1, 2], "labelAngle": 270, "labelAlign": "center", "labelBaseline": "bottom", "labelPadding": 1, "labelExpr": "datum.value == 2 ? '2' : (datum.value == 0 ? '0' : (datum.value == -2 ? '-2' : ''))"}}}},
          {"width": 133, "height": 117, "data": {"name": "t4"}, "view": {"stroke": "#000", "strokeWidth": 1},
           "title": {"text": "Trial 4", "frame": "group", "offset": 20},
           "mark": {"type": "point", "filled": true, "size": 5, "color": "#111", "opacity": 1},
           "encoding": {
             "x": {"field": "voxel", "type": "quantitative", "scale": {"domain": [-0.96, 51.96], "nice": false, "zero": false}, "axis": {"title": "Voxel", "values": [0, 10, 20, 30, 40, 50]}},
             "y": {"field": "act", "type": "quantitative", "scale": {"domain": [-4.35, 3.41], "nice": false, "zero": false}, "axis": {"title": "Activation", "values": [-4, -3, -2, -1, 0, 1, 2, 3], "labelAngle": 270, "labelAlign": "center", "labelBaseline": "bottom", "labelPadding": 1, "labelExpr": "datum.value == 3 ? '3' : (datum.value == 0 ? '0' : (datum.value == -4 ? '-4' : ''))"}}}}
        ],
        "spacing": 77,
        "bounds": "flush"
      }
    ],
    "spacing": 10,
    "bounds": "flush"
  }
],
"spacing": 5,
"bounds": "full"
}
